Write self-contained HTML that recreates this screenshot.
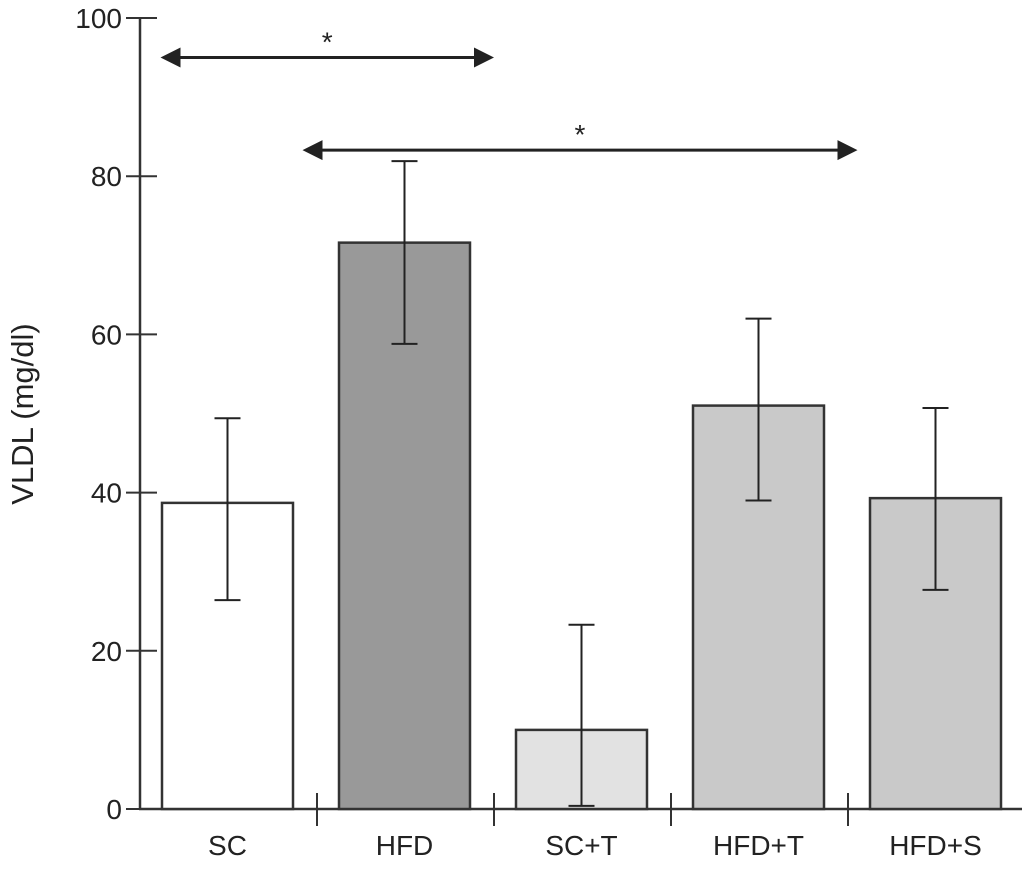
<!DOCTYPE html>
<html><head><meta charset="utf-8"><style>body{margin:0;background:#fff}svg{display:block}text{font-family:"Liberation Sans",sans-serif;fill:#222}</style></head>
<body>
<svg id="chart" width="1024" height="870"></svg>
<script>
const categories=["SC","HFD","SC+T","HFD+T","HFD+S"];
const values=[38.7,71.6,10,51,39.3];
const errHigh=[49.4,81.9,23.3,62,50.7];
const errLow=[26.4,58.8,0.4,39,27.7];
const fills=["#ffffff","#999999","#e2e2e2","#c9c9c9","#c9c9c9"];
const yTicks=[0,20,40,60,80,100];
const sigFrom=[0,1];const sigTo=[1,3];const sigY=[95,83.3];
const svg=document.getElementById('chart');const NS="http://www.w3.org/2000/svg";
const y=v=>809-v*7.91;
const slotL=140,slotW=177;
const cx=i=>slotL+slotW*(i+0.5)-1;
function mk(t,a,p){const e=document.createElementNS(NS,t);for(const k in a)e.setAttribute(k,a[k]);(p||svg).appendChild(e);return e;}
let ax=mk('line',{x1:140,y1:18,x2:140,y2:810,stroke:'#333','stroke-width':2.5});


ax=mk('line',{x1:139,y1:809,x2:1022,y2:809,stroke:'#333','stroke-width':2.5});


yTicks.forEach(v=>{
 const l=mk('line',{x1:126,x2:157,y1:y(v),y2:y(v),stroke:'#333','stroke-width':2});
 if(v===0)l.setAttribute('x2',140);
 
 
 const t=mk('text',{x:122,y:y(v)+10,'text-anchor':'end','font-size':28});t.textContent=v;
 
 
});
const yt=mk('text',{x:33,y:414,'text-anchor':'middle','font-size':31,transform:'rotate(-90 33 414)'});yt.textContent='VLDL (mg/dl)';


categories.forEach((c,i)=>{
 const x=cx(i),w=131;
 const b=mk('rect',{x:x-w/2,y:y(values[i]),width:w,height:y(0)-y(values[i]),fill:fills[i],stroke:'#333','stroke-width':2.5});
 
 
 const g=mk('g',{stroke:'#222','stroke-width':2});
 
 
 mk('line',{x1:x,x2:x,y1:y(errHigh[i]),y2:y(errLow[i])},g);
 mk('line',{x1:x-13,x2:x+13,y1:y(errHigh[i]),y2:y(errHigh[i])},g);
 mk('line',{x1:x-13,x2:x+13,y1:y(errLow[i]),y2:y(errLow[i])},g);
 const tk=mk('line',{x1:slotL+slotW*(i+1),x2:slotL+slotW*(i+1),y1:793,y2:826,stroke:'#333','stroke-width':2});
 
 
 const t=mk('text',{x:x,y:855,'text-anchor':'middle','font-size':28});t.textContent=c;
 
 
});
sigFrom.forEach((f,k)=>{
 const x1=k===0?cx(f)-67:cx(f)-102;
 const x2=k===0?slotL+slotW*(sigTo[k]+1):cx(sigTo[k])+99;
 const yy=y(sigY[k]);
 const g=mk('g',{});
 
 
 mk('line',{x1:x1+15,x2:x2-15,y1:yy,y2:yy,stroke:'#222','stroke-width':3},g);
 mk('polygon',{points:`${x1},${yy} ${x1+20},${yy-10} ${x1+20},${yy+10}`,fill:'#222'},g);
 mk('polygon',{points:`${x2},${yy} ${x2-20},${yy-10} ${x2-20},${yy+10}`,fill:'#222'},g);
 const s=mk('text',{x:(x1+x2)/2,y:yy-6,'text-anchor':'middle','font-size':28},g);s.textContent='*';
});
</script>
</body></html>
